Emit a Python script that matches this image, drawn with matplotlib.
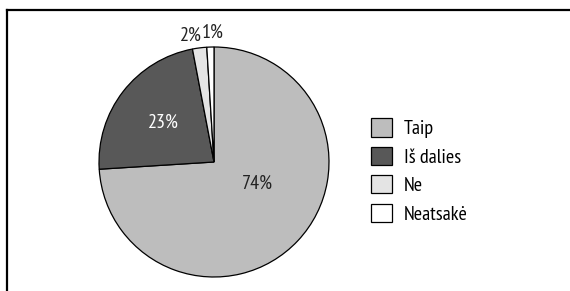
import numpy as np
import matplotlib
matplotlib.use("Agg")
import matplotlib.pyplot as plt
from matplotlib.lines import Line2D
from matplotlib.patches import Patch

plt.rcParams['font.family'] = ['PT Sans Narrow', 'Archivo Narrow', 'DejaVu Sans']

labels = ["Taip", "Iš dalies", "Ne", "Neatsakė"]
values = [74, 23, 2, 1]
colors = ["#bdbdbd", "#585858", "#e4e4e4", "#ffffff"]
text_colors = ["#222222", "#ffffff", "#222222", "#222222"]

# label placement (radius, extra angle in degrees) per slice
label_dist = [0.42, 0.56, 1.115, 1.125]
label_shift = [16, 0, 3.4, -1.1]

fig = plt.figure(figsize=(5.7, 2.91), dpi=100)

# frame (top and left edge only, the rest is cut off)
fig.add_artist(Line2D([7 / 570, 1], [1 - 10 / 291, 1 - 10 / 291], color="black", lw=1.6))
fig.add_artist(Line2D([7 / 570, 7 / 570], [0, 1 - 10 / 291], color="black", lw=1.6))

ax = fig.add_axes([99 / 570, 14 / 291, 230 / 570, 230 / 291])
wedges, _ = ax.pie(values, colors=colors, startangle=90, counterclock=False,
                   wedgeprops=dict(edgecolor="black", linewidth=0.9))
ax.set_xlim(-1, 1)
ax.set_ylim(-1, 1)
ax.set_aspect("equal")

for i, w in enumerate(wedges):
    ang = np.deg2rad((w.theta1 + w.theta2) / 2 + label_shift[i])
    r = label_dist[i]
    ax.text(r * np.cos(ang), r * np.sin(ang), "%d%%" % values[i],
            ha="center", va="center", fontsize=14.5, color=text_colors[i])

handles = [Patch(facecolor=c, edgecolor="black", linewidth=0.9) for c in colors]
fig.legend(handles, labels, loc="center left", bbox_to_anchor=(371 / 570, 1 - 171 / 291),
           frameon=False, fontsize=14.5, handlelength=1.05, handleheight=1.0,
           handletextpad=0.6, labelspacing=0.42, borderpad=0, borderaxespad=0)

fig.savefig("out.png", dpi=100)
